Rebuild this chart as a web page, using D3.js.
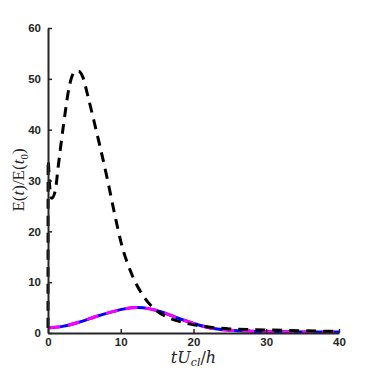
<!DOCTYPE html>
<html>
<head>
<meta charset="utf-8">
<script src="https://cdn.jsdelivr.net/npm/d3@7"></script>
<style>
  body { margin: 0; background: #fff; }
  .tick text { font-family: "Liberation Sans", Arial, sans-serif; font-weight: bold; font-size: 11.5px; fill: #262626; }
</style>
</head>
<body>
<div id="chart"></div>
<script>
// energy ratio, reference case (black dashed)
var tBlack = [0, 0.02, 0.2, 0.5, 1.0, 1.4, 2.1, 3.0, 3.7, 4.2, 4.8, 5.5, 6.3, 7.15, 8.2, 9.1, 10.1, 11.5, 13.1, 14.5, 16.3, 18, 20, 22.5, 25, 30, 35, 40];
var eBlack = [1, 34, 29.5, 26.5, 28, 32.7, 40.6, 49, 51.4, 51.5, 50.3, 46.5, 41.8, 36.7, 30, 23.8, 17.5, 11.6, 7.3, 4.9, 3.2, 2.3, 1.6, 1.1, 0.8, 0.6, 0.45, 0.3];
// energy ratio, other cases (blue solid / magenta dashed)
var tBlue = [0, 2, 4.4, 6.5, 8.9, 10.5, 12.2, 14, 15.5, 17, 18.5, 20, 22.3, 25, 28, 32, 36, 40];
var eBlue = [1.0, 1.3, 2.2, 3.2, 4.2, 4.75, 5.0, 4.75, 4.2, 3.4, 2.6, 1.9, 1.0, 0.55, 0.35, 0.25, 0.2, 0.2];
var xTicks = [0, 10, 20, 30, 40];
var yTicks = [0, 10, 20, 30, 40, 50, 60];

var W = 374, H = 374;
var margin = {top: 28, right: 35, bottom: 41, left: 48};
var width = W - margin.left - margin.right,
    height = H - margin.top - margin.bottom;

var x = d3.scaleLinear().domain([0, 40]).range([0, width]);
var y = d3.scaleLinear().domain([0, 60]).range([height, 0]);

var svg = d3.select("#chart").append("svg")
    .attr("width", W).attr("height", H)
  .append("g")
    .attr("transform", "translate(" + margin.left + "," + margin.top + ")");

var line = d3.line()
    .x(function(d) { return x(d[0]); })
    .y(function(d) { return y(d[1]); })
    .curve(d3.curveMonotoneX);

var blackData = tBlack.map(function(t, i) { return [t, eBlack[i]]; });
var blueData = tBlue.map(function(t, i) { return [t, eBlue[i]]; });

// curves
svg.append("path").datum(blueData)
    .attr("d", line).attr("fill", "none")
    .attr("stroke", "#0000ff").attr("stroke-width", 3);
svg.append("path").datum(blueData)
    .attr("d", line).attr("fill", "none")
    .attr("stroke", "#ff00ff").attr("stroke-width", 3)
    .attr("stroke-dasharray", "12,8");
svg.append("path").datum(blackData)
    .attr("d", line).attr("fill", "none")
    .attr("stroke", "#000").attr("stroke-width", 3)
    .attr("stroke-dasharray", "10,7");

// axes
var xAxis = svg.append("g")
    .attr("transform", "translate(0," + height + ")")
    .call(d3.axisBottom(x).tickValues(xTicks).tickSizeInner(-4).tickSizeOuter(0).tickPadding(5));
var yAxis = svg.append("g")
    .call(d3.axisLeft(y).tickValues(yTicks).tickSizeInner(-4).tickSizeOuter(0).tickPadding(7));
[xAxis, yAxis].forEach(function(a) {
    a.select(".domain").attr("stroke", "#262626").attr("stroke-width", 2);
    a.selectAll(".tick line").attr("stroke", "#262626").attr("stroke-width", 1.5);
});

// labels
var xl = svg.append("text")
    .attr("x", width / 2).attr("y", height + 30)
    .attr("text-anchor", "middle")
    .attr("font-family", "'DejaVu Serif', 'Liberation Serif', serif")
    .attr("font-size", 16).attr("fill", "#262626");
xl.append("tspan").attr("font-style", "italic").text("tU");
xl.append("tspan").attr("font-style", "italic").attr("font-size", 11).attr("dy", 3).text("cl");
xl.append("tspan").attr("dy", -3).text("/");
xl.append("tspan").attr("font-style", "italic").text("h");

var yl = svg.append("text")
    .attr("transform", "translate(" + (-24) + "," + 152 + ") rotate(-90)")
    .attr("text-anchor", "middle")
    .attr("font-family", "'Liberation Serif', 'DejaVu Serif', serif")
    .attr("font-size", 17).attr("fill", "#262626");
yl.append("tspan").text("E(");
yl.append("tspan").attr("font-style", "italic").text("t");
yl.append("tspan").text(")/E(");
yl.append("tspan").attr("font-style", "italic").text("t");
yl.append("tspan").attr("font-size", 11).attr("dy", 4).text("0");
yl.append("tspan").attr("dy", -4).text(")");
</script>
</body>
</html>
